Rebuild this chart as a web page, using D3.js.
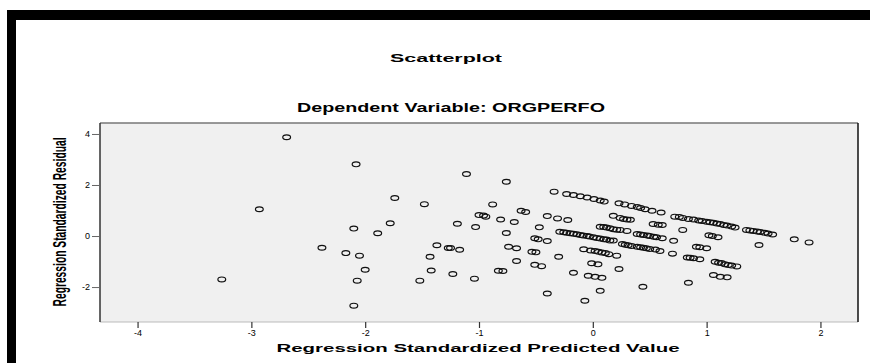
<!DOCTYPE html>
<html>
<head>
<meta charset="utf-8">
<script src="https://cdn.jsdelivr.net/npm/d3@7"></script>
<style>
  html, body { margin: 0; padding: 0; background: #fff; }
  svg { display: block; }
  text { font-family: Arial, "Liberation Sans", sans-serif; fill: #000; }
</style>
</head>
<body>
<script>
// ---- Data ----
const title = "Scatterplot";
const subtitle = "Dependent Variable: ORGPERFO";
const xTitle = "Regression Standardized Predicted Value";
const yTitle = "Regression Standardized Residual";
const xTicks = [-4, -3, -2, -1, 0, 1, 2];
const yTicks = [-2, 0, 2, 4];

const predicted = [
  -3.26, -2.93, -2.69, -2.38, -2.17, -2.10, -2.08, -2.10, -2.07, -2.05,
  -2.00, -1.89, -1.78, -1.74, -1.52, -1.48, -1.43, -1.42, -1.37, -1.27,
  -1.25, -1.23, -1.19, -1.17, -1.11, -1.04, -1.03, -1.00, -0.96, -0.94,
  -0.88, -0.83, -0.81, -0.79, -0.76, -0.76, -0.74, -0.69, -0.67, -0.67,
  -0.63, -0.59, -0.535, -0.50, -0.51, -0.48, -0.40, -0.51, -0.45, -0.47,
  -0.40, -0.31, -0.22, -0.40, -0.34, -0.30,
  -0.23, -0.17, -0.11, -0.05, 0.01, 0.065, 0.10, 0.23, 0.28, 0.34,
  0.39, 0.42, 0.46, 0.52, 0.60, 0.72, 0.76, 0.79, 0.84, 0.885,
  0.93, 0.96, 1.00, 1.03, 1.06, 1.09, 1.12, 1.15, 1.18, 1.22,
  1.25, 1.35, 1.38, 1.41, 1.445, 1.47, 1.51, 1.54, 1.58, 1.77,
  1.90, 1.46,
  0.18, 0.24, 0.27, 0.30, 0.33, 0.53, 0.575, 0.61, 0.79, 1.02, 1.05, 1.10,
  0.065, 0.096, 0.12, 0.15, 0.18, 0.21, 0.24, 0.30, 0.39, 0.42,
  0.445, 0.48, 0.50, 0.535, 0.56, 0.61, 0.71,
  -0.29, -0.255, -0.23, -0.20, -0.17, -0.14, -0.11, -0.085, -0.05, -0.03,
  0.005, 0.035, 0.065, 0.096, 0.12, 0.15, 0.18,
  0.26, 0.285, 0.31, 0.34, 0.39, 0.42, 0.445, 0.47, 0.50, 0.55, 0.59, 0.70,
  -0.08, -0.02, 0.02, 0.05, 0.08, 0.11, 0.14, 0.21,
  0.91, 0.94, 1.00, 0.83, 0.855, 0.885, 0.94, 1.075, 1.105, 1.13,
  1.16, 1.19, 1.22, 1.265, 1.06, 1.12, 1.18, 0.84, 0.44, 0.065,
  -0.07, -0.01, 0.045, 0.23, -0.17, -0.04, 0.02, 0.08
];
const residual = [
  -1.70, 1.05, 3.87, -0.46, -0.67, 0.29, 2.81, -2.73, -1.75, -0.77,
  -1.32, 0.11, 0.50, 1.49, -1.75, 1.25, -0.81, -1.35, -0.36, -0.47,
  -0.47, -1.49, 0.48, -0.54, 2.43, -1.67, 0.35, 0.82, 0.80, 0.76,
  1.24, -1.36, 0.65, -1.37, 0.12, 2.13, -0.42, 0.55, -0.48, -0.98,
  0.99, 0.94, -0.62, -0.64, -0.09, -0.13, -0.20, -1.13, -1.18, 0.34,
  0.78, 0.69, 0.63, -2.25, 1.74, -0.81,
  1.65, 1.61, 1.56, 1.51, 1.45, 1.39, 1.35, 1.28, 1.24, 1.18,
  1.14, 1.10, 1.05, 0.99, 0.92, 0.76, 0.75, 0.71, 0.67, 0.65,
  0.61, 0.59, 0.56, 0.54, 0.52, 0.49, 0.47, 0.43, 0.41, 0.37,
  0.33, 0.24, 0.22, 0.20, 0.18, 0.16, 0.13, 0.10, 0.06, -0.13,
  -0.25, -0.35,
  0.79, 0.71, 0.67, 0.65, 0.64, 0.47, 0.44, 0.43, 0.24, 0.03, 0.00, -0.05,
  0.36, 0.35, 0.33, 0.30, 0.27, 0.25, 0.24, 0.20, 0.08, 0.06,
  0.04, 0.02, 0.00, -0.03, -0.05, -0.09, -0.19,
  0.17, 0.15, 0.13, 0.11, 0.09, 0.07, 0.04, 0.02, 0.00, -0.02,
  -0.05, -0.08, -0.10, -0.13, -0.14, -0.18, -0.18,
  -0.31, -0.34, -0.36, -0.39, -0.42, -0.44, -0.46, -0.48, -0.51, -0.53, -0.59, -0.69,
  -0.52, -0.57, -0.59, -0.62, -0.65, -0.67, -0.71, -0.77,
  -0.42, -0.44, -0.48, -0.84, -0.85, -0.87, -0.91, -1.01, -1.05, -1.06,
  -1.11, -1.14, -1.16, -1.19, -1.53, -1.60, -1.62, -1.83, -1.99, -2.15,
  -2.54, -1.07, -1.11, -1.29, -1.44, -1.56, -1.60, -1.64
];

// ---- Layout ----
const W = 870, H = 363;
const plot = { left: 100, right: 858, top: 123, bottom: 322 };
const SX = 1.6; // horizontal stretch seen in the reference

const svg = d3.select("body").append("svg")
  .attr("width", W).attr("height", H);

svg.append("rect").attr("width", W).attr("height", H).attr("fill", "#fff");

// outer black frame (top + left)
svg.append("rect").attr("x", 7).attr("y", 10).attr("width", W - 7).attr("height", 10).attr("fill", "#000");
svg.append("rect").attr("x", 7).attr("y", 10).attr("width", 9).attr("height", H - 10).attr("fill", "#000");

const x = d3.scaleLinear().domain([-4.33, 2.33]).range([plot.left, plot.right]);
const y = d3.scaleLinear().domain([-3.37, 4.43]).range([plot.bottom, plot.top]);

// plot background
svg.append("rect")
  .attr("x", plot.left).attr("y", plot.top)
  .attr("width", plot.right - plot.left).attr("height", plot.bottom - plot.top)
  .attr("fill", "#f0f0f0");

// frame lines
svg.append("line").attr("x1", plot.left).attr("x2", plot.right).attr("y1", plot.top).attr("y2", plot.top)
  .attr("stroke", "#777").attr("stroke-width", 1.5);
svg.append("line").attr("x1", plot.left).attr("x2", plot.right).attr("y1", plot.bottom).attr("y2", plot.bottom)
  .attr("stroke", "#bbb").attr("stroke-width", 1);
svg.append("line").attr("x1", plot.left).attr("x2", plot.left).attr("y1", plot.top).attr("y2", plot.bottom)
  .attr("stroke", "#333").attr("stroke-width", 1.5);
svg.append("line").attr("x1", plot.right).attr("x2", plot.right).attr("y1", plot.top).attr("y2", plot.bottom)
  .attr("stroke", "#111").attr("stroke-width", 1.5);

// axes
const fmt = d => (d < 0 ? "-" : "") + Math.abs(d);
const xAxis = svg.append("g").attr("transform", `translate(0,${plot.bottom})`)
  .call(d3.axisBottom(x).tickValues(xTicks).tickSize(6).tickPadding(2).tickFormat(fmt));
xAxis.select(".domain").remove();
xAxis.selectAll(".tick line").attr("stroke", "#333").attr("stroke-width", 1.2);
xAxis.selectAll(".tick text").attr("font-size", 9).attr("fill", "#222")
  .attr("font-family", "Arial, 'Liberation Sans', sans-serif");

const yAxis = svg.append("g").attr("transform", `translate(${plot.left},0)`)
  .call(d3.axisLeft(y).tickValues(yTicks).tickSize(8).tickPadding(2).tickFormat(fmt));
yAxis.select(".domain").remove();
yAxis.selectAll(".tick line").attr("stroke", "#666").attr("stroke-width", 1);
yAxis.selectAll(".tick text").attr("font-size", 9).attr("fill", "#222")
  .attr("font-family", "Arial, 'Liberation Sans', sans-serif");

// points
const pts = predicted.map((p, i) => ({ p, r: residual[i] }));
svg.append("g").selectAll("ellipse").data(pts).join("ellipse")
  .attr("cx", d => x(d.p)).attr("cy", d => y(d.r))
  .attr("rx", 3.9).attr("ry", 2.4)
  .attr("fill", "none").attr("stroke", "#111").attr("stroke-width", 1.2);

// titles (stretched horizontally like the reference)
svg.append("text").attr("x", 446).attr("y", 62).attr("text-anchor", "middle")
  .attr("font-size", 11).attr("font-weight", "bold")
  .attr("textLength", 112).attr("lengthAdjust", "spacingAndGlyphs").text(title);

svg.append("text").attr("x", 451).attr("y", 112).attr("text-anchor", "middle")
  .attr("font-size", 12).attr("font-weight", "bold").attr("fill", "#111")
  .attr("textLength", 308).attr("lengthAdjust", "spacingAndGlyphs").text(subtitle);

svg.append("text").attr("x", 478).attr("y", 352).attr("text-anchor", "middle")
  .attr("font-size", 11).attr("font-weight", "bold")
  .attr("textLength", 403).attr("lengthAdjust", "spacingAndGlyphs").text(xTitle);

svg.append("text")
  .attr("transform", `translate(66,222) scale(${SX},1) rotate(-90)`)
  .attr("text-anchor", "middle")
  .attr("font-size", 11).attr("font-weight", "bold")
  .attr("textLength", 169).attr("lengthAdjust", "spacingAndGlyphs").text(yTitle);
</script>
</body>
</html>
